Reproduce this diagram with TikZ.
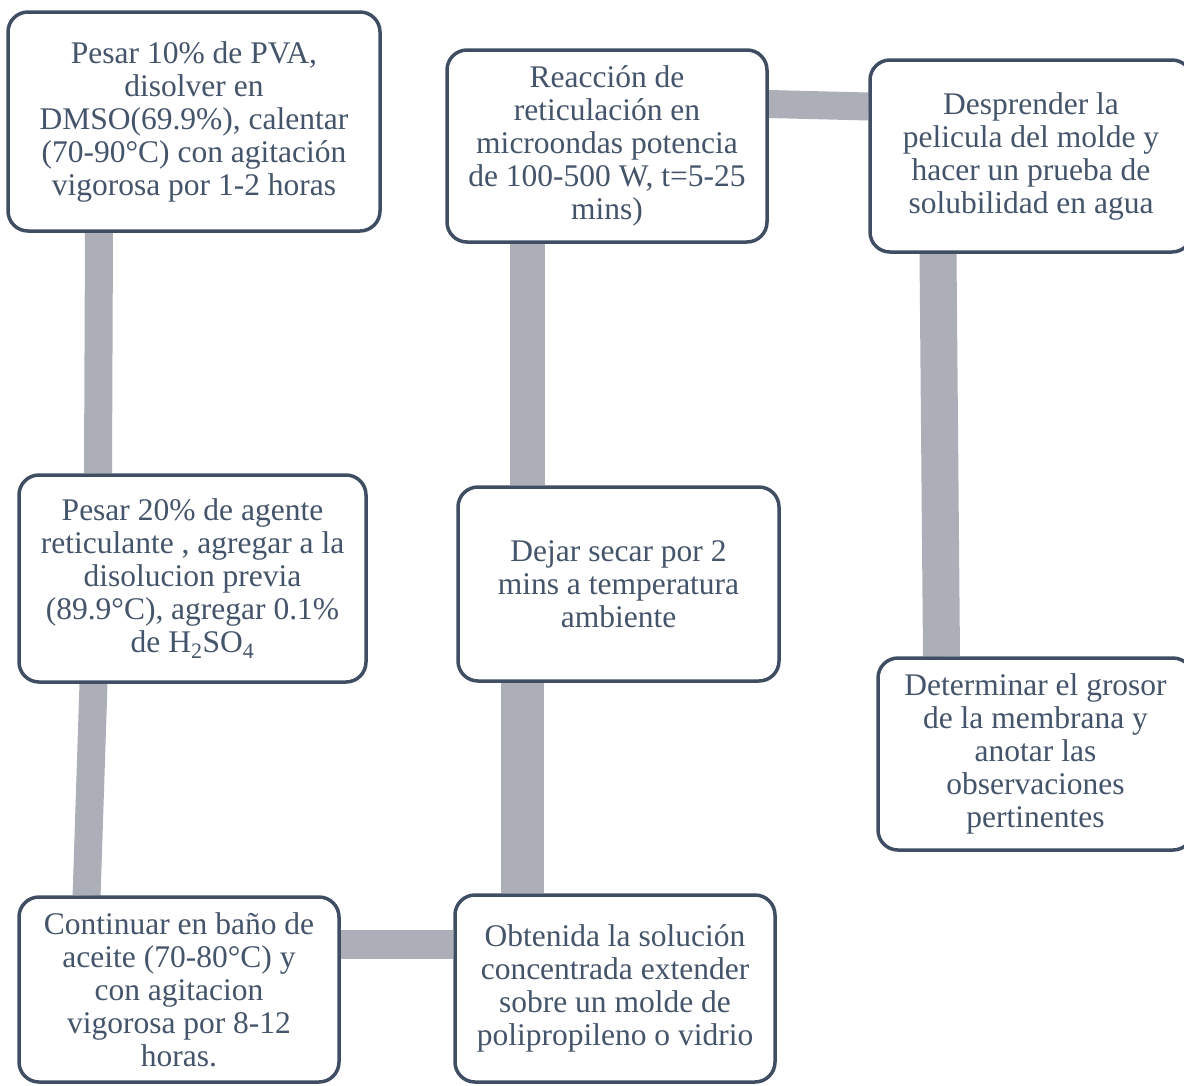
\documentclass[tikz,border=0pt]{standalone}
\usepackage{fontspec}
\setmainfont{Liberation Serif}
\usetikzlibrary{backgrounds}
\definecolor{txt}{HTML}{44546A}
\definecolor{bord}{HTML}{3F4E62}
\definecolor{conn}{HTML}{ADAFB8}
\tikzset{
  stepbox/.style={draw=bord, line width=3.5pt, rounded corners=20pt, fill=white,
    text=txt, align=center, inner sep=0pt,
    font=\fontsize{31.5}{33}\selectfont},
  link/.style={draw=conn, line cap=butt}
}
\begin{document}
\begin{tikzpicture}[x=1pt,y=-1pt]
\useasboundingbox (0,0) rectangle (1184,1085);
\node[stepbox, minimum width=372pt, minimum height=219pt] (A) at (194,121.5)
  {Pesar 10\% de PVA,\\disolver en\\DMSO(69.9\%), calentar\\(70-90°C) con agitación\\vigorosa por 1-2 horas};
\node[stepbox, minimum width=347pt, minimum height=207pt] (B) at (192.5,578.5)
  {Pesar 20\% de agente\\reticulante , agregar a la\\disolucion previa\\(89.9°C), agregar 0.1\%\\de H\textsubscript{2}SO\textsubscript{4}};
\node[stepbox, minimum width=320pt, minimum height=185pt] (C) at (179,989.5)
  {Continuar en baño de\\aceite (70-80°C) y\\con agitacion\\vigorosa por 8-12\\horas.};
\node[stepbox, minimum width=320pt, minimum height=187pt] (D) at (615,988.5)
  {Obtenida la solución\\concentrada extender\\sobre un molde de\\polipropileno o vidrio};
\node[stepbox, minimum width=321pt, minimum height=194pt] (E) at (618.5,584)
  {Dejar secar por 2\\mins a temperatura\\ambiente};
\node[stepbox, minimum width=320pt, minimum height=192pt] (F) at (607,146)
  {Reacción de\\reticulación en\\microondas potencia\\de 100-500 W, t=5-25\\mins)};
\node[stepbox, minimum width=322pt, minimum height=192pt] (G) at (1031,156)
  {Desprender la\\pelicula del molde y\\hacer un prueba de\\solubilidad en agua};
\node[stepbox, minimum width=315pt, minimum height=192pt] (H) at (1035.5,754)
  {Determinar el grosor\\de la membrana y\\anotar las\\observaciones\\pertinentes};
\begin{scope}[on background layer]
\draw[link, line width=28pt] ([xshift=-95pt]A.south) -- ([xshift=-94.5pt]B.north);
\draw[link, line width=28pt] ([xshift=-99pt]B.south) -- ([xshift=-92.4pt]C.north);
\draw[link, line width=29pt] ([yshift=45.5pt]C.east) -- ([yshift=44.5pt]D.west);
\draw[link, line width=43pt] ([xshift=-93pt]D.north) -- ([xshift=-96.5pt]E.south);
\draw[link, line width=35pt] ([xshift=-91.5pt]E.north) -- ([xshift=-80pt]F.south);
\draw[link, line width=28pt] ([yshift=42pt]F.east) -- ([yshift=49.5pt]G.west);
\draw[link, line width=37pt] ([xshift=-93pt]G.south) -- ([xshift=-94pt]H.north);
\end{scope}
\end{tikzpicture}
\end{document}
